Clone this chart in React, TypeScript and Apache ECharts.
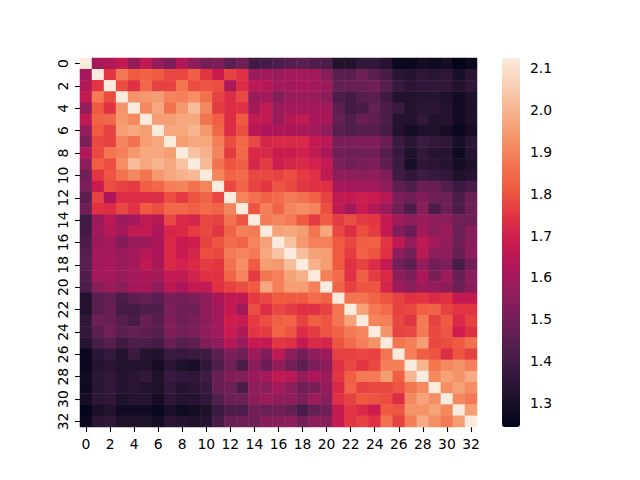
import React, { useEffect, useRef } from "react";
import * as echarts from "echarts";

const labels = Array.from({ length: 33 }, (_, i) => String(i));
const barTicks = [1.3, 1.4, 1.5, 1.6, 1.7, 1.8, 1.9, 2.0, 2.1];
const diagonal = 2.124;
const vMin = 1.243;
const rocket = ["#03051a","#1c1029","#35193e","#511e4d","#701f57","#8f1d5b","#ad1759","#cb1b4f","#e13342","#ef5a41","#f37651","#f5966a","#f6b48f","#f8d0b5","#faebdd"];

// upper triangle, row r holds columns r+1 .. 32
const r0 = [1.60,1.63,1.66,1.57,1.66,1.57,1.52,1.63,1.56,1.50,1.52,1.45,1.49,1.39,1.40,1.42,1.44,1.45,1.43,1.42,1.32,1.32,1.36,1.36,1.33,1.26,1.26,1.28,1.27,1.29,1.245,1.265];
const r1 = [1.75,1.88,1.81,1.83,1.81,1.78,1.78,1.82,1.75,1.68,1.77,1.74,1.58,1.59,1.58,1.60,1.60,1.60,1.54,1.45,1.45,1.49,1.45,1.41,1.34,1.33,1.35,1.34,1.35,1.30,1.34];
const r2 = [1.79,1.74,1.84,1.77,1.77,1.87,1.79,1.80,1.79,1.62,1.73,1.65,1.64,1.60,1.60,1.61,1.60,1.58,1.47,1.48,1.48,1.50,1.44,1.37,1.34,1.36,1.36,1.36,1.32,1.35];
const r3 = [1.93,1.94,1.95,1.90,1.89,1.92,1.86,1.77,1.73,1.78,1.58,1.60,1.53,1.58,1.58,1.58,1.55,1.42,1.40,1.44,1.45,1.39,1.32,1.32,1.33,1.33,1.31,1.28,1.31];
const r4 = [1.91,1.97,1.86,1.94,2.02,1.91,1.76,1.73,1.74,1.60,1.66,1.58,1.60,1.60,1.60,1.60,1.46,1.40,1.41,1.47,1.42,1.38,1.32,1.34,1.34,1.33,1.28,1.31];
const r5 = [1.95,1.95,1.97,1.97,1.87,1.82,1.73,1.81,1.66,1.66,1.58,1.64,1.66,1.61,1.61,1.47,1.43,1.48,1.46,1.42,1.33,1.32,1.36,1.32,1.33,1.28,1.31];
const r6 = [1.97,1.97,2.00,1.94,1.84,1.73,1.79,1.64,1.62,1.62,1.62,1.61,1.60,1.56,1.45,1.43,1.44,1.44,1.40,1.32,1.29,1.31,1.31,1.29,1.26,1.29];
const r7 = [1.95,1.97,1.97,1.89,1.79,1.84,1.78,1.71,1.72,1.72,1.72,1.67,1.65,1.51,1.52,1.53,1.53,1.48,1.38,1.34,1.38,1.36,1.35,1.30,1.34];
const r8 = [2.03,1.99,1.90,1.76,1.84,1.72,1.72,1.68,1.68,1.70,1.66,1.62,1.50,1.49,1.49,1.50,1.44,1.37,1.31,1.36,1.33,1.33,1.27,1.33];
const r9 = [2.01,1.86,1.80,1.82,1.71,1.76,1.69,1.71,1.72,1.70,1.67,1.52,1.49,1.51,1.52,1.46,1.38,1.30,1.35,1.34,1.33,1.29,1.31];
const r10 = [1.90,1.83,1.85,1.78,1.78,1.77,1.79,1.76,1.74,1.66,1.56,1.56,1.55,1.56,1.53,1.39,1.36,1.39,1.37,1.36,1.31,1.33];
const r11 = [1.78,1.83,1.77,1.75,1.80,1.78,1.75,1.74,1.74,1.61,1.60,1.60,1.59,1.56,1.46,1.43,1.48,1.48,1.43,1.38,1.41];
const r12 = [1.90,1.86,1.83,1.85,1.88,1.86,1.83,1.77,1.66,1.67,1.69,1.68,1.64,1.52,1.49,1.53,1.49,1.49,1.42,1.48];
const r13 = [1.80,1.89,1.83,1.90,1.92,1.90,1.79,1.66,1.60,1.68,1.63,1.58,1.49,1.42,1.54,1.42,1.49,1.42,1.49];
const r14 = [1.88,1.90,1.88,1.81,1.76,1.81,1.76,1.79,1.76,1.75,1.67,1.59,1.55,1.58,1.56,1.55,1.50,1.49];
const r15 = [1.96,1.97,1.95,1.87,1.97,1.78,1.73,1.79,1.76,1.67,1.53,1.48,1.60,1.55,1.58,1.48,1.54];
const r16 = [2.03,1.94,1.89,1.89,1.81,1.78,1.82,1.83,1.75,1.66,1.57,1.66,1.60,1.56,1.49,1.54];
const r17 = [2.02,1.96,1.95,1.81,1.76,1.83,1.80,1.74,1.56,1.50,1.65,1.55,1.56,1.47,1.55];
const r18 = [1.99,1.95,1.81,1.74,1.77,1.73,1.67,1.50,1.46,1.57,1.50,1.52,1.41,1.50];
const r19 = [1.89,1.85,1.74,1.82,1.76,1.72,1.56,1.52,1.62,1.51,1.59,1.47,1.55];
const r20 = [1.83,1.77,1.80,1.80,1.71,1.59,1.55,1.59,1.57,1.55,1.49,1.54];
const r21 = [1.87,1.87,1.83,1.80,1.77,1.74,1.75,1.72,1.74,1.67,1.67];
const r22 = [1.96,1.88,1.85,1.77,1.78,1.82,1.83,1.77,1.75,1.75];
const r23 = [1.90,1.89,1.78,1.75,1.88,1.77,1.81,1.72,1.77];
const r24 = [1.93,1.77,1.78,1.88,1.78,1.80,1.69,1.74];
const r25 = [1.87,1.89,1.95,1.78,1.79,1.81,1.86];
const r26 = [1.89,1.82,1.80,1.73,1.80,1.77];
const r27 = [2.00,1.87,1.91,1.93,1.89];
const r28 = [1.91,1.96,1.93,1.98];
const r29 = [1.92,1.96,1.92];
const r30 = [1.91,1.88];
const r31 = [1.95];
const upper = [r0,r1,r2,r3,r4,r5,r6,r7,r8,r9,r10,r11,r12,r13,r14,r15,r16,r17,r18,r19,r20,r21,r22,r23,r24,r25,r26,r27,r28,r29,r30,r31];

const cells: number[][] = [];
labels.forEach((_, r) => {
  cells.push([r, r, diagonal]);
  if (r < upper.length) {
    upper[r].forEach((v, k) => {
      const c = r + 1 + k;
      cells.push([c, r, v]);
      cells.push([r, c, v]);
    });
  }
});

const font = "'DejaVu Sans'";
const fs = 13.9;
const tick = { show: true, length: 5, lineStyle: { color: "#000", width: 1.1 } };

export default function App() {
  const ref = useRef<HTMLDivElement>(null);
  useEffect(() => {
    const chart = echarts.init(ref.current!, undefined, { renderer: "svg" });
    chart.setOption({
      animation: false,
      backgroundColor: "#fff",
      grid: [
        { left: 80, top: 58, width: 397, height: 369 },
        { left: 502, top: 58, width: 18, height: 369 },
      ],
      xAxis: [
        {
          type: "category", data: labels, gridIndex: 0, position: "bottom",
          axisLine: { show: false }, splitLine: { show: false },
          axisTick: { ...tick, alignWithLabel: true, interval: 1 },
          axisLabel: { interval: 1, margin: 10, fontFamily: font, fontSize: fs, color: "#000", hideOverlap: false },
        },
        { type: "value", gridIndex: 1, show: false, min: 0, max: 1 },
      ],
      yAxis: [
        {
          type: "category", data: labels, gridIndex: 0, inverse: true,
          axisLine: { show: false }, splitLine: { show: false },
          axisTick: { ...tick, alignWithLabel: true, interval: 1 },
          axisLabel: { interval: 1, margin: 10, rotate: 90, fontFamily: font, fontSize: fs, color: "#000", hideOverlap: false },
        },
        {
          type: "value", gridIndex: 1, position: "right", min: vMin, max: diagonal,
          axisLine: { show: false }, splitLine: { show: false },
          axisTick: { ...tick, customValues: barTicks },
          axisLabel: {
            customValues: barTicks, margin: 10, fontFamily: font, fontSize: fs, color: "#000",
            formatter: (v: number) => v.toFixed(1),
          },
        },
      ],
      visualMap: {
        type: "continuous", show: true, seriesIndex: 0, min: vMin, max: diagonal,
        left: 502, top: 58, itemWidth: 18, itemHeight: 369, padding: 0,
        calculable: false, realtime: false, text: undefined, showLabel: false,
        textStyle: { fontSize: 0, color: "transparent" },
        inRange: { color: rocket },
      },
      series: [
        {
          type: "heatmap", data: cells, xAxisIndex: 0, yAxisIndex: 0,
          progressive: 0, label: { show: false },
          itemStyle: { borderWidth: 0 }, emphasis: { disabled: true },
        },
      ],
    });
    return () => chart.dispose();
  }, []);
  return <div ref={ref} style={{ position: "fixed", left: 0, top: 0, width: 640, height: 480 }} />;
}
